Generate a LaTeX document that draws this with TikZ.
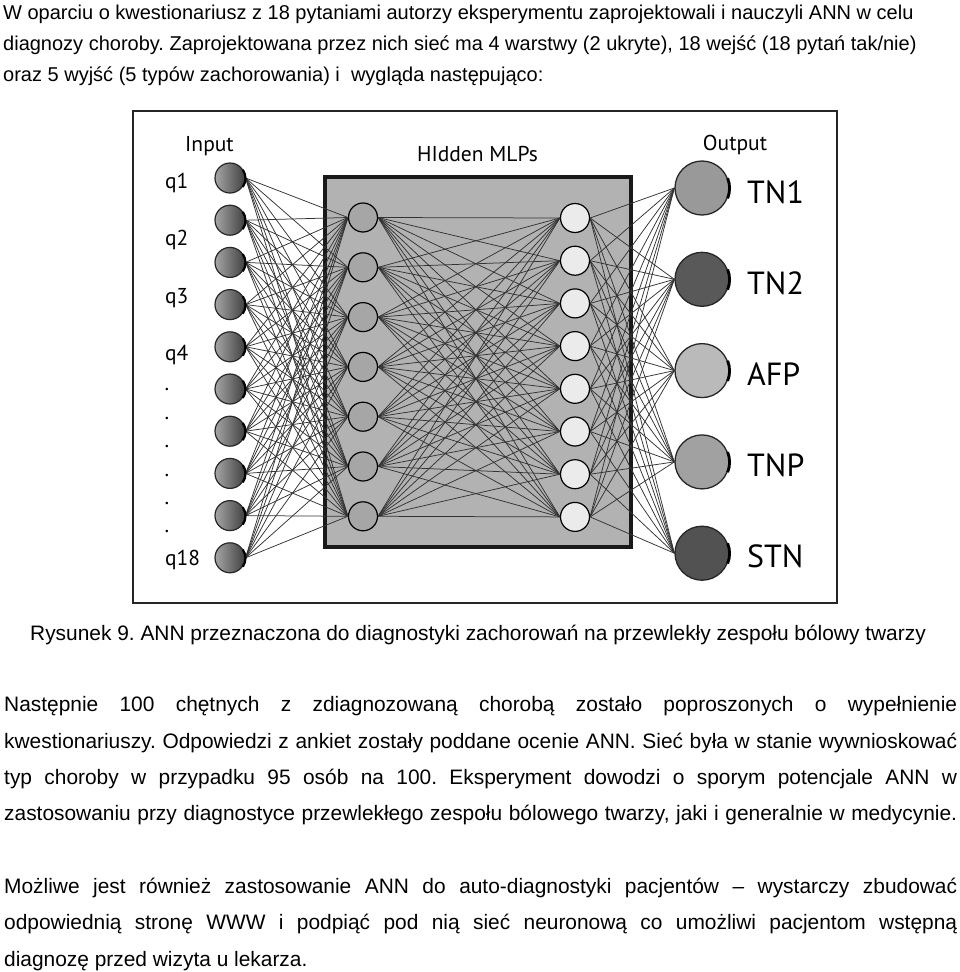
\documentclass[tikz,border=0pt]{standalone}
\usepackage{fontspec}
\setmainfont{Liberation Sans}
\newfontfamily\figfont{PT Sans}
\usetikzlibrary{positioning}
\frenchspacing

\newcommand{\fullline}[1]{\makebox[953pt][s]{#1}}

\begin{document}
\begin{tikzpicture}[
  x=1pt,y=-1pt,
  bodytext/.style={anchor=base west,inner sep=0pt,font=\fontsize{20.9}{24}\selectfont},
  introtext/.style={bodytext,font=\fontsize{20}{24}\selectfont},
  figlabel/.style={inner sep=0pt,font=\figfont\fontsize{21.5}{24}\selectfont},
  classlabel/.style={anchor=base west,inner sep=0pt,font=\figfont\fontsize{32}{36}\selectfont},
  inunit/.style={circle,draw=black!85,line width=1.2pt,minimum size=30pt,inner sep=0pt,left color=black!35,right color=black!75},
  hidunit/.style={circle,draw=black,line width=1.2pt,minimum size=29pt,inner sep=0pt},
  outunit/.style={circle,draw=black!85,line width=1.3pt,minimum size=54pt,inner sep=0pt},
  mlpbox/.style={rectangle,draw=black!90,line width=3.5pt,fill=black!30,minimum width=306pt,minimum height=370pt,inner sep=0pt},
  link/.style={black!80,line width=0.75pt}
]
\useasboundingbox (0,0) rectangle (960,972);

% Text above
\node[introtext] (introa) at (3,19.5) {W oparciu o kwestionariusz z 18 pytaniami autorzy eksperymentu zaprojektowali i nauczyli ANN w celu};
\node[introtext] (introb) at (3,50.5) {diagnozy choroby. Zaprojektowana przez nich sieć ma 4 warstwy (2 ukryte), 18 wejść (18 pytań tak/nie)};
\node[introtext] (introc) at (3,81.5) {oraz 5 wyjść (5 typów zachorowania) i~ wygląda następująco:};

% Figure frame
\draw[black!85,line width=1.2pt] (133,111) rectangle (837,603);

% Headings
\node[figlabel,anchor=base] (inhead) at (209.5,151.5) {Input};
\node[figlabel,anchor=base] (hidhead) at (477.5,161.5) {HIdden MLPs};
\node[figlabel,anchor=base] (outhead) at (735,150) {Output};

% Hidden box
\node[mlpbox] (mlp) at (478,362) {};

% Input layer
\foreach \i in {1,...,10}
  \node[inunit] (q\i) at (230,{178+42.2*(\i-1)}) {};
\node[figlabel,anchor=base west] (lq1) at (165,188) {q1};
\node[figlabel,anchor=base west] (lq2) at (165,245) {q2};
\node[figlabel,anchor=base west] (lq3) at (165,303) {q3};
\node[figlabel,anchor=base west] (lq4) at (165,360) {q4};
\foreach \d in {0,...,5}
  \node[figlabel] (dot\d) at (167,{390+28.4*\d}) {.};
\node[figlabel,anchor=base west] (lq18) at (165,565) {q18};

% Hidden layers
\foreach \i in {1,...,7}
  \node[hidunit,fill=black!35] (ha\i) at (363,{217.5+49.8*(\i-1)}) {};
\foreach \i in {1,...,8}
  \node[hidunit,fill=black!8] (hb\i) at (575,{218+42.7*(\i-1)}) {};

% Output layer
\foreach \name/\shade [count=\i] in {TN1/black!40,TN2/black!65,AFP/black!27,TNP/black!37,STN/black!68} {
  \node[outunit,fill=\shade] (o\i) at (702,{188+91.3*(\i-1)}) {};
  \node[classlabel] (lo\i) at (747,{203.3+91.1*(\i-1)}) {\name};
}

% Connections
\foreach \i in {1,...,10}
  \foreach \j in {1,...,7}
    \draw[link] (q\i.east) -- (ha\j.west);
\foreach \i in {1,...,7}
  \foreach \j in {1,...,8}
    \draw[link] (ha\i.east) -- (hb\j.west);
\foreach \i in {1,...,8}
  \foreach \j in {1,...,5}
    \draw[link] (hb\i.east) -- (o\j.west);

% dark rims
\foreach \i in {1,...,10}
  \draw[line width=2.2pt] (q\i.-35) arc[start angle=-35,end angle=35,radius=15pt];
\foreach \i in {1,...,5}
  \draw[line width=2.8pt] (o\i.-22) arc[start angle=-22,end angle=22,radius=27pt];

% Caption
\node[bodytext] (caption) at (30,640.7) {Rysunek 9. ANN przeznaczona do diagnostyki zachorowań na przewlekły zespołu bólowy twarzy};

% Text below
\node[bodytext] (parba) at (4,711.7) {\fullline{Następnie 100 chętnych z zdiagnozowaną chorobą zostało poproszonych o wypełnienie}};
\node[bodytext] (parbb) at (4,748) {\fullline{kwestionariuszy. Odpowiedzi z ankiet zostały poddane ocenie ANN. Sieć była w stanie wywnioskować}};
\node[bodytext] (parbc) at (4,784.3) {\fullline{typ choroby w przypadku 95 osób na 100. Eksperyment dowodzi o sporym potencjale ANN w}};
\node[bodytext] (parbd) at (4,820.6) {\fullline{zastosowaniu przy diagnostyce przewlekłego zespołu bólowego twarzy, jaki i generalnie w medycynie.}};
\node[bodytext] (parca) at (4,893.3) {\fullline{Możliwe jest również zastosowanie ANN do auto-diagnostyki pacjentów – wystarczy zbudować}};
\node[bodytext] (parcb) at (4,929.6) {\fullline{odpowiednią stronę WWW i podpiąć pod nią sieć neuronową co umożliwi pacjentom wstępną}};
\node[bodytext] (parcc) at (4,966) {diagnozę przed wizyta u lekarza.};

\end{tikzpicture}
\end{document}
